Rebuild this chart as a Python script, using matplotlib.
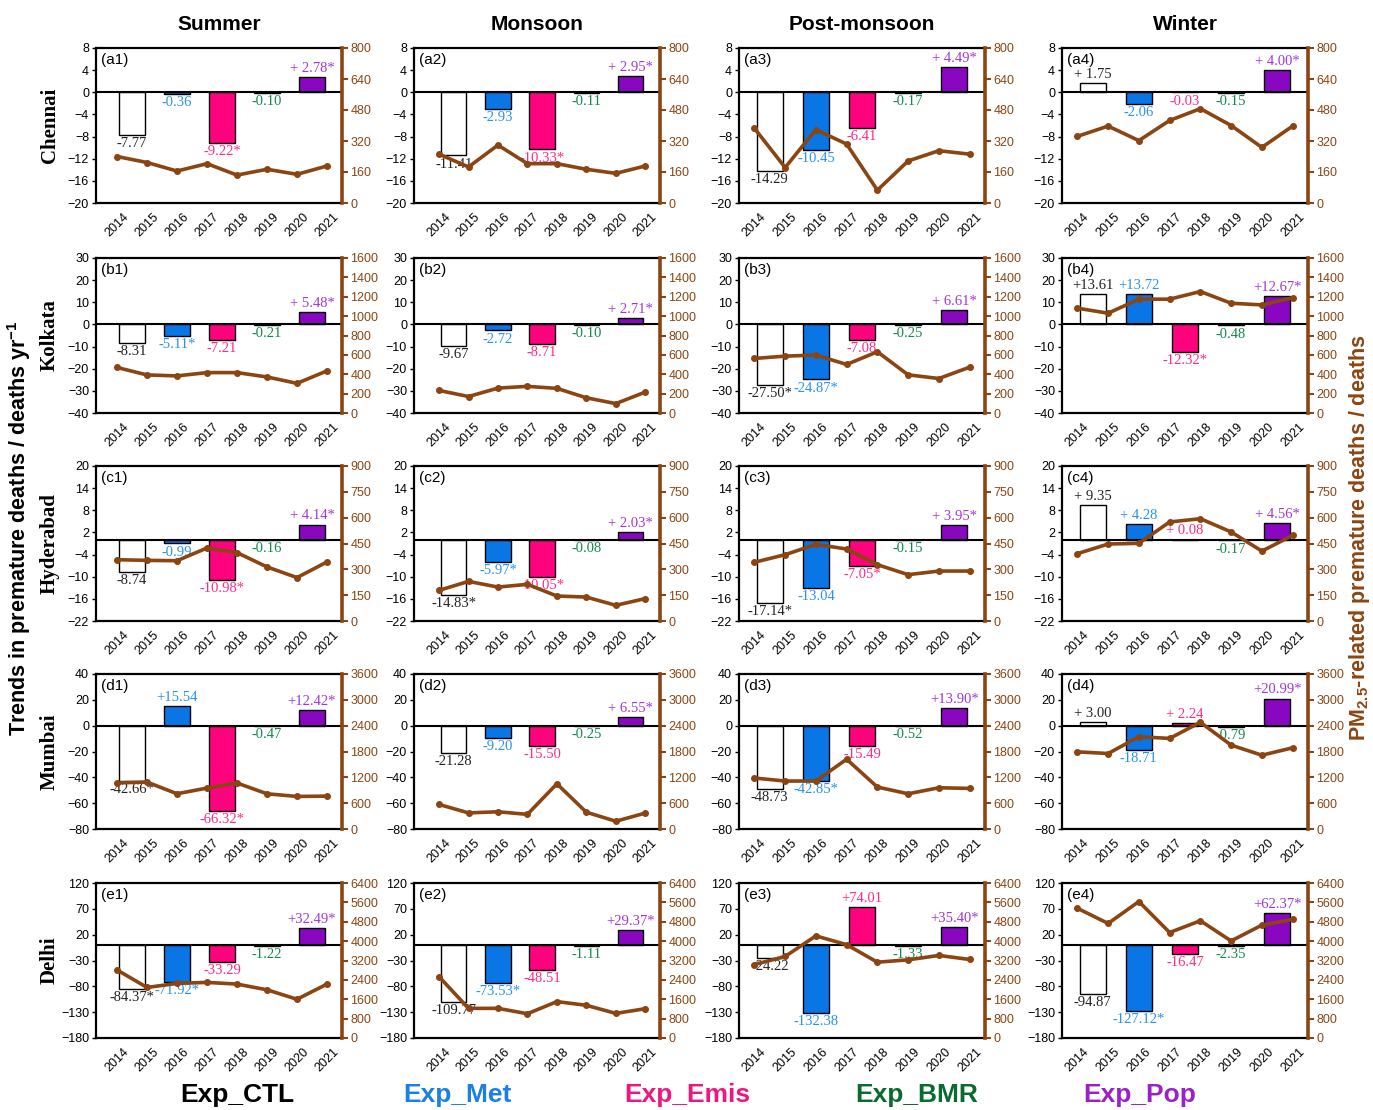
import matplotlib.pyplot as plt
import numpy as np

plt.rcParams['font.family'] = ['Liberation Sans Narrow', 'Liberation Sans', 'DejaVu Sans']
plt.rcParams['mathtext.default'] = 'regular'

years = [2014, 2015, 2016, 2017, 2018, 2019, 2020, 2021]
seasons = ['Summer', 'Monsoon', 'Post-monsoon', 'Winter']
cities = ['Chennai', 'Kolkata', 'Hyderabad', 'Mumbai', 'Delhi']
exps = ['Exp_CTL', 'Exp_Met', 'Exp_Emis', 'Exp_BMR', 'Exp_Pop']

# trends (deaths/yr), one row per season: CTL, Met, Emis, BMR, Pop
chennai_trend = [[-7.77, -0.36, -9.22, -0.10, 2.78],
                 [-11.41, -2.93, -10.33, -0.11, 2.95],
                 [-14.29, -10.45, -6.41, -0.17, 4.49],
                 [1.75, -2.06, -0.03, -0.15, 4.00]]
chennai_sig = [[0, 0, 1, 0, 1], [0, 0, 1, 0, 1], [0, 0, 0, 0, 1], [0, 0, 0, 0, 1]]
chennai_deaths = [[240, 209, 165, 203, 144, 174, 148, 191],
                  [252, 186, 299, 203, 203, 174, 153, 191],
                  [386, 183, 379, 304, 66, 217, 270, 252],
                  [344, 397, 322, 426, 487, 400, 287, 397]]

kolkata_trend = [[-8.31, -5.11, -7.21, -0.21, 5.48],
                 [-9.67, -2.72, -8.71, -0.10, 2.71],
                 [-27.50, -24.87, -7.08, -0.25, 6.61],
                 [13.61, 13.72, -12.32, -0.48, 12.67]]
kolkata_sig = [[0, 1, 0, 0, 1], [0, 0, 0, 0, 1], [1, 1, 0, 0, 1], [0, 0, 1, 0, 1]]
kolkata_deaths = [[470, 393, 383, 417, 417, 372, 306, 435],
                  [233, 170, 257, 275, 254, 157, 97, 216],
                  [563, 587, 598, 501, 632, 394, 356, 473],
                  [1082, 1030, 1175, 1175, 1254, 1133, 1116, 1189]]

hyderabad_trend = [[-8.74, -0.99, -10.98, -0.16, 4.14],
                   [-14.83, -5.97, -10.05, -0.08, 2.03],
                   [-17.14, -13.04, -7.05, -0.15, 3.95],
                   [9.35, 4.28, 0.08, -0.17, 4.56]]
hyderabad_sig = [[0, 0, 1, 0, 1], [1, 1, 1, 0, 1], [1, 0, 1, 0, 1], [0, 0, 0, 0, 1]]
hyderabad_deaths = [[356, 352, 350, 424, 397, 314, 252, 343],
                    [178, 230, 197, 213, 145, 139, 91, 130],
                    [341, 385, 445, 418, 327, 269, 290, 290],
                    [391, 447, 451, 575, 594, 517, 406, 497]]

mumbai_trend = [[-42.66, 15.54, -66.32, -0.47, 12.42],
                [-21.28, -9.20, -15.50, -0.25, 6.55],
                [-48.73, -42.85, -15.49, -0.52, 13.90],
                [3.00, -18.71, 2.24, -0.79, 20.99]]
mumbai_sig = [[1, 0, 1, 0, 1], [0, 0, 0, 0, 1], [0, 1, 0, 0, 1], [0, 0, 0, 0, 1]]
mumbai_deaths = [[1070, 1090, 818, 951, 1068, 818, 756, 764],
                 [570, 374, 400, 340, 1050, 390, 180, 370],
                 [1184, 1114, 1114, 1621, 974, 818, 958, 943],
                 [1792, 1753, 2143, 2104, 2478, 1948, 1714, 1886]]

delhi_trend = [[-84.37, -71.92, -33.29, -1.22, 32.49],
               [-109.77, -73.53, -48.51, -1.11, 29.37],
               [-24.22, -132.38, 74.01, -1.33, 35.40],
               [-94.87, -127.12, -16.47, -2.35, 62.37]]
delhi_sig = [[1, 1, 0, 0, 1], [0, 1, 0, 0, 1], [0, 0, 0, 0, 1], [0, 1, 0, 0, 1]]
delhi_deaths = [[2810, 2087, 2254, 2296, 2226, 1990, 1600, 2226],
                [2532, 1224, 1224, 1002, 1503, 1350, 1016, 1210],
                [3033, 3367, 4216, 3854, 3130, 3228, 3409, 3242],
                [5357, 4730, 5635, 4355, 4842, 4007, 4661, 4897]]

trends = [chennai_trend, kolkata_trend, hyderabad_trend, mumbai_trend, delhi_trend]
sigs = [chennai_sig, kolkata_sig, hyderabad_sig, mumbai_sig, delhi_sig]
deaths = [chennai_deaths, kolkata_deaths, hyderabad_deaths, mumbai_deaths, delhi_deaths]

# axis ranges per city
left_lims = [(-20, 8), (-40, 30), (-22, 20), (-80, 40), (-180, 120)]
left_steps = [4, 10, 6, 20, 50]
right_max = [800, 1600, 900, 3600, 6400]
right_steps = [160, 200, 150, 600, 800]

bar_colors = ['white', '#0A76E6', '#FF037F', '#0B6B33', '#8A07C2']
text_colors = ['#222222', '#2892EE', '#FF2A8A', '#13884A', '#A136DA']
legend_colors = ['black', '#1B7FE6', '#F0167E', '#0A6B2E', '#9A20CA']
brown = '#8B4513'

W, H = 1373, 1110
col_left = [96, 414, 739, 1062]
row_top = [48, 258, 466, 674, 883]
aw, ah = 246, 155
xleft = [-0.7, -0.85, -0.5, -0.5]
bar_x = [0.5 + 1.5 * i for i in range(5)]

fig = plt.figure(figsize=(W / 100, H / 100), dpi=100)

for r in range(5):
    for c in range(4):
        ax = fig.add_axes([col_left[c] / W, 1 - (row_top[r] + ah) / H, aw / W, ah / H])
        vals = trends[r][c]
        ax.bar(bar_x, vals, width=0.86, color=bar_colors, edgecolor='black',
               linewidth=1.0, zorder=2)
        ax.axhline(0, color='black', lw=1.5, zorder=3)
        lo, hi = left_lims[r]
        ax.set_ylim(lo, hi)
        ax.set_yticks(np.arange(lo, hi + 1, left_steps[r]))
        ax.set_xlim(xleft[c], 7.5)
        ax.set_xticks(range(len(years)))
        ax.set_xticklabels(years, rotation=45, ha='center', fontsize=9)
        ax.tick_params(axis='x', length=0, pad=6)
        ax.tick_params(axis='y', labelsize=9, length=3, width=1, pad=2)
        for s in ['left', 'top', 'bottom']:
            ax.spines[s].set_linewidth(1.6)
        ax.spines['right'].set_visible(False)

        for i, v in enumerate(vals):
            star = '*' if sigs[r][c][i] else ''
            if v >= 0:
                txt = '+' + ('%5.2f' % v) + star
                off, va = 1.5, 'bottom'
            else:
                txt = '%.2f' % v + star
                off, va = -1.5, 'top'
            ax.annotate(txt, (bar_x[i], v), xytext=(0, off), textcoords='offset points',
                        ha='center', va=va, fontsize=10.5, family='Liberation Serif',
                        color=text_colors[i], zorder=4)

        ax.text(0.02, 0.97, '(%s%d)' % ('abcde'[r], c + 1), transform=ax.transAxes,
                ha='left', va='top', fontsize=11)

        ax2 = ax.twinx()
        ax2.plot(range(len(years)), deaths[r][c], color=brown, lw=2.6, marker='o',
                 markersize=4, zorder=5)
        ax2.set_ylim(0, right_max[r])
        ax2.set_yticks(np.arange(0, right_max[r] + 1, right_steps[r]))
        ax2.tick_params(axis='y', colors=brown, labelsize=9, length=4, width=1.5, pad=2)
        for s in ['left', 'top', 'bottom']:
            ax2.spines[s].set_visible(False)
        ax2.spines['right'].set_color(brown)
        ax2.spines['right'].set_linewidth(2.6)

        if r == 0:
            fig.text((col_left[c] + aw / 2) / W, 1 - 24 / H, seasons[c], ha='center',
                     va='center', fontsize=15, weight='bold')
    fig.text(50 / W, 1 - (row_top[r] + ah / 2) / H, cities[r], rotation=90,
             ha='center', va='center', fontsize=15, weight='bold',
             family='Liberation Serif')

fig.text(19 / W, 1 - 528 / H, 'Trends in premature deaths / deaths yr$^{-1}$', rotation=90,
         ha='center', va='center', fontsize=15.5, weight='bold')
fig.text(1360 / W, 1 - 538 / H, 'PM$_{2.5}$-related premature deaths / deaths', rotation=90,
         ha='center', va='center', fontsize=15.5, weight='bold', color=brown)

leg_x = [237, 457, 687, 917, 1140]
for i, name in enumerate(exps):
    fig.text(leg_x[i] / W, 1 - 1095 / H, name, ha='center', va='center', fontsize=19,
             weight='bold', color=legend_colors[i])

fig.savefig('out.png', dpi=100)
